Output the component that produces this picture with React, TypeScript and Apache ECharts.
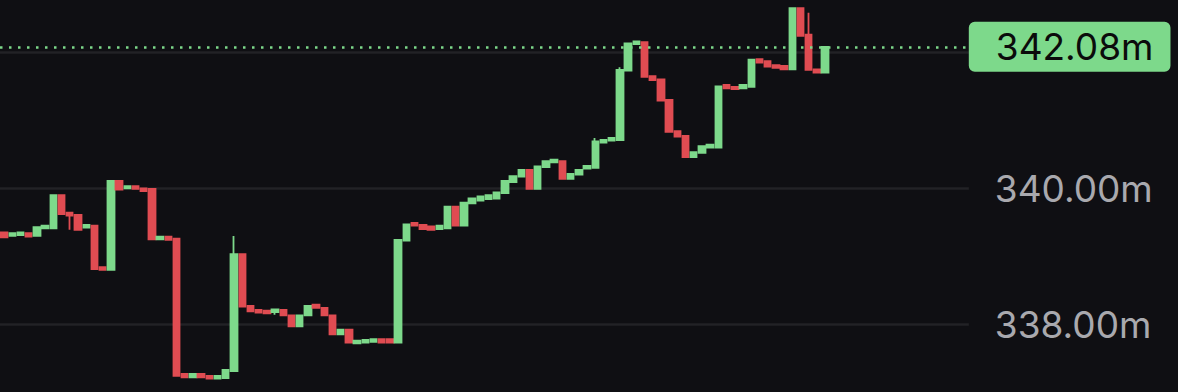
import { useEffect, useRef } from 'react';
import * as echarts from 'echarts';

const opens = [
  339.35, 339.30, 339.31, 339.34, 339.30, 339.41, 339.41, 339.90, 339.64, 339.61,
  339.42, 339.45, 338.84, 338.80, 340.11, 340.00, 340.03, 340.00, 339.99, 339.25,
  339.29, 339.26, 337.27, 337.22, 337.27, 337.24, 337.20, 337.21, 337.31, 339.03,
  338.27, 338.21, 338.20, 338.18, 338.21, 338.13, 337.97, 338.13, 338.29, 338.24,
  338.13, 337.85, 337.92, 337.72, 337.73, 337.74, 337.78, 337.78, 337.73, 339.23,
  339.49, 339.46, 339.44, 339.40, 339.41, 339.73, 339.45, 339.78, 339.82, 339.84,
  339.85, 339.93, 340.09, 340.17, 340.27, 339.99, 340.31, 340.38, 340.40, 340.14,
  340.20, 340.29, 340.30, 340.67, 340.70, 340.71, 341.73, 342.12, 342.15, 341.65,
  341.60, 341.30, 340.84, 340.77, 340.46, 340.52, 340.60, 340.60, 341.52, 341.49,
  341.47, 341.49, 341.90, 341.87, 341.81, 341.80, 341.75, 342.65, 342.26, 341.75,
  341.70,
];

const closes = [
  339.28, 339.34, 339.35, 339.29, 339.43, 339.45, 339.90, 339.62, 339.60, 339.39,
  339.46, 338.81, 338.80, 340.11, 339.98, 340.03, 339.99, 339.96, 339.25, 339.29,
  339.24, 337.24, 337.22, 337.27, 337.22, 337.20, 337.24, 337.33, 339.03, 338.26,
  338.19, 338.17, 338.16, 338.22, 338.13, 337.97, 338.13, 338.27, 338.24, 338.13,
  337.85, 337.92, 337.73, 337.76, 337.77, 337.78, 337.73, 337.73, 339.24, 339.47,
  339.45, 339.40, 339.39, 339.45, 339.73, 339.45, 339.79, 339.85, 339.88, 339.90,
  339.94, 340.11, 340.18, 340.27, 339.99, 340.32, 340.40, 340.42, 340.14, 340.21,
  340.27, 340.33, 340.69, 340.71, 340.74, 341.74, 342.13, 342.16, 341.64, 341.59,
  341.29, 340.83, 340.76, 340.46, 340.53, 340.62, 340.64, 341.50, 341.47, 341.46,
  341.52, 341.89, 341.85, 341.79, 341.77, 341.75, 342.65, 342.24, 341.74, 341.70,
  342.08,
];

// [candle index, low, high] where the wick extends beyond the body
const wicks: [number, number | null, number | null][] = [
  [8, 339.39, null],
  [28, null, 339.30],
  [33, 338.14, null],
  [72, null, 340.74],
  [75, null, 341.78],
  [98, null, 342.58],
];

const currentPrice = 342.08;
const totalSlots = 118;
const yMin = 337.004;
const yMax = 342.769;
const yTickLabels = [338, 340];

const GREEN = '#7dd98b';
const RED = '#e04c52';

export default function App() {
  const ref = useRef<HTMLDivElement>(null);
  useEffect(() => {
    const chart = echarts.init(ref.current!, null, { renderer: 'svg' });
    const categories = Array.from({ length: totalSlots }, (_, i) => String(i));
    const data = opens.map((o, i) => {
      const c = closes[i];
      let low = Math.min(o, c);
      let high = Math.max(o, c);
      const w = wicks.find((x) => x[0] === i);
      if (w) {
        if (w[1] != null) low = w[1];
        if (w[2] != null) high = w[2];
      }
      return [o, c, low, high];
    });
    chart.setOption({
      animation: false,
      backgroundColor: '#0f0f13',
      grid: { left: -1.5, right: 209.2, top: 0, bottom: 0 },
      xAxis: {
        type: 'category',
        data: categories,
        show: false,
        boundaryGap: true,
      },
      yAxis: {
        type: 'value',
        position: 'right',
        min: yMin,
        max: yMax,
        splitNumber: 3,
        axisLine: { show: false },
        axisTick: { show: false },
        splitLine: {
          show: true,
          showMinLine: false,
          showMaxLine: false,
          lineStyle: { color: '#222226', width: 2.5 },
        },
        axisLabel: {
          color: '#a9a9ae',
          fontSize: 37,
          fontFamily: 'Inter, "Liberation Sans", sans-serif',
          margin: 26,
          showMinLabel: false,
          showMaxLabel: false,
          formatter: (v: number) =>
            yTickLabels.some((t) => Math.abs(t - v) < 1e-6) ? v.toFixed(2) + 'm' : '',
        },
      },
      series: [
        {
          type: 'candlestick',
          data,
          barWidth: 6.9,
          itemStyle: {
            color: GREEN,
            color0: RED,
            borderColor: GREEN,
            borderColor0: RED,
            borderWidth: 1.8,
          },
          markLine: {
            silent: true,
            symbol: ['none', 'none'],
            data: [{ yAxis: currentPrice }],
            lineStyle: { color: GREEN, type: [2.5, 6.5], width: 2.5 },
            label: {
              show: true,
              position: 'end',
              distance: 0,
              formatter: currentPrice.toFixed(2) + 'm',
              backgroundColor: GREEN,
              color: '#0b0b0b',
              fontSize: 37,
              lineHeight: 40,
              fontFamily: 'Inter, "Liberation Sans", sans-serif',
              padding: [5, 17, 5, 27],
              borderRadius: 6,
            },
          },
        },
      ],
    });
    return () => chart.dispose();
  }, []);
  return (
    <div
      ref={ref}
      style={{ position: 'fixed', left: 0, top: 0, width: 1178, height: 392 }}
    />
  );
}
